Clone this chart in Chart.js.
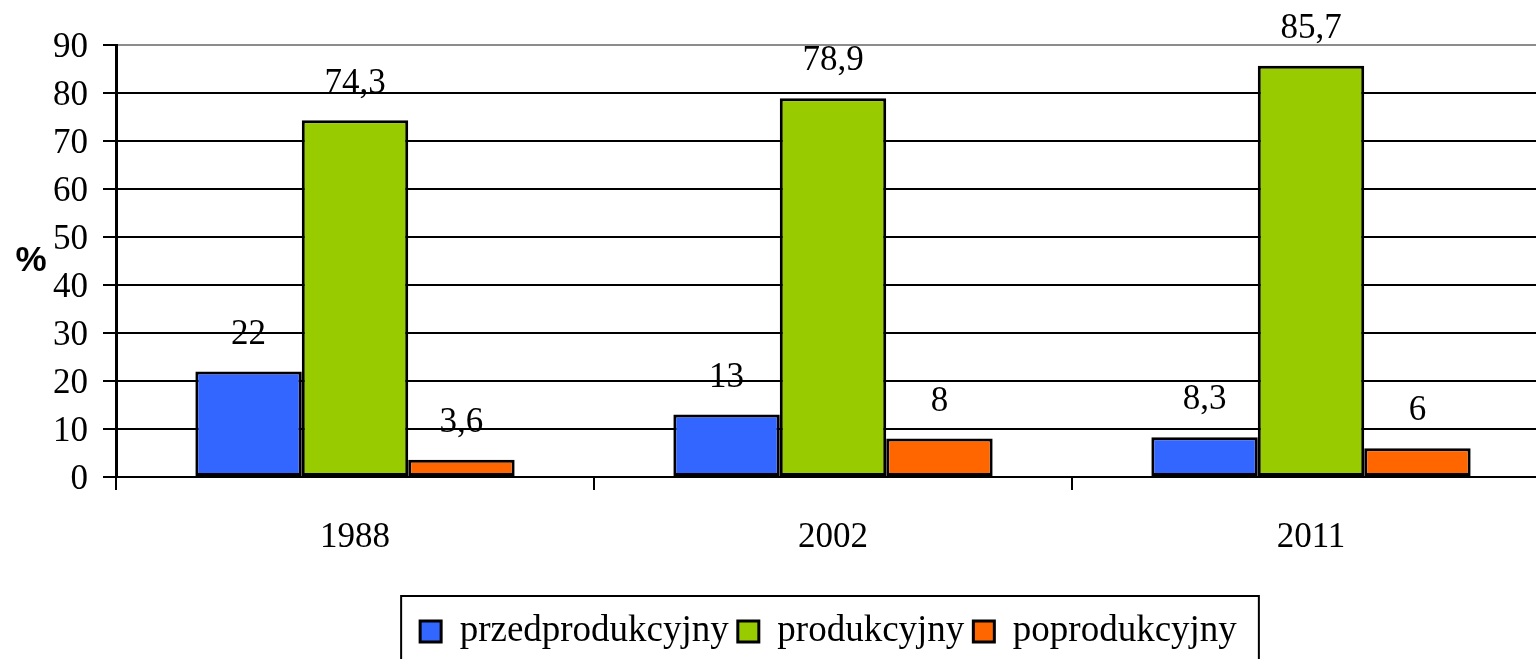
<!DOCTYPE html>
<html>
<head>
<meta charset="utf-8">
<script src="https://cdn.jsdelivr.net/npm/chart.js@4/dist/chart.umd.min.js"></script>
<style>
  html, body { margin: 0; padding: 0; background: #fff; overflow: hidden; }
  #wrap { position: absolute; left: 0; top: 0; width: 1560px; height: 680px; }
</style>
</head>
<body>
<div id="wrap"><canvas id="c" width="1560" height="680"></canvas></div>
<script>
const categories = ['1988', '2002', '2011'];
const seriesNames = ['przedprodukcyjny', 'produkcyjny', 'poprodukcyjny'];
const przedprodukcyjny = [22, 13, 8.3];
const produkcyjny = [74.3, 78.9, 85.7];
const poprodukcyjny = [3.6, 8, 6];
const yTicks = [0, 10, 20, 30, 40, 50, 60, 70, 80, 90];
const colors = ['#3366FF', '#99CC00', '#FF6600'];

const serif = '"Liberation Serif", "Times New Roman", serif';

const fmt = v => String(v).replace('.', ',');

const valueLabels = {
  id: 'valueLabels',
  afterDatasetsDraw(chart) {
    const ctx = chart.ctx;
    ctx.save();
    ctx.font = '35px ' + serif;
    ctx.fillStyle = '#000';
    ctx.textAlign = 'center';
    ctx.textBaseline = 'middle';
    chart.data.datasets.forEach((ds, i) => {
      const meta = chart.getDatasetMeta(i);
      meta.data.forEach((bar, j) => {
        ctx.fillText(fmt(ds.data[j]), bar.x, bar.y - 37);
      });
    });
    ctx.restore();
  }
};

const extras = {
  id: 'extras',
  afterLayout(chart) {
    if (chart.legend) { chart.legend.left = 107; }
  },
  afterDraw(chart) {
    const ctx = chart.ctx;
    const ca = chart.chartArea;
    ctx.save();
    ctx.font = 'bold 35px "Liberation Sans", Arial, sans-serif';
    ctx.fillStyle = '#000';
    ctx.textAlign = 'center';
    ctx.textBaseline = 'middle';
    ctx.fillText('%', ca.left - 85, (ca.top + ca.bottom) / 2);
    const hb = chart.legend.legendHitBoxes;
    if (hb && hb.length) {
      const first = hb[0], last = hb[hb.length - 1];
      const l = first.left - 19;
      const r = last.left + last.width + 22;
      const t = first.top - 17;
      ctx.strokeStyle = '#000';
      ctx.lineWidth = 2;
      ctx.strokeRect(l, t, r - l, 200);
    }
    ctx.restore();
  }
};

new Chart(document.getElementById('c'), {
  type: 'bar',
  data: {
    labels: categories,
    datasets: [
      { label: seriesNames[0], data: przedprodukcyjny, backgroundColor: colors[0] },
      { label: seriesNames[1], data: produkcyjny, backgroundColor: colors[1] },
      { label: seriesNames[2], data: poprodukcyjny, backgroundColor: colors[2] }
    ].map(d => Object.assign(d, {
      borderColor: '#000', borderWidth: 3, borderSkipped: false,
      categoryPercentage: 0.668, barPercentage: 1.0
    }))
  },
  options: {
    responsive: false,
    animation: false,
    events: [],
    layout: { padding: { left: 0, right: 10, top: 45, bottom: 20 } },
    plugins: {
      legend: {
        position: 'bottom',
        labels: {
          font: { family: serif, size: 37 },
          color: '#000',
          boxWidth: 21,
          boxHeight: 21,
          padding: 9
        }
      },
      tooltip: { enabled: false },
      title: { display: false }
    },
    scales: {
      x: {
        offset: true,
        grid: {
          offset: true,
          drawOnChartArea: false,
          drawTicks: true,
          tickLength: 13,
          color: '#000',
          lineWidth: 2
        },
        border: { display: true, color: '#000', width: 2 },
        ticks: {
          font: { family: serif, size: 35 },
          color: '#000',
          padding: 27,
          maxRotation: 0
        },
        afterFit(scale) { scale.height = 127; }
      },
      y: {
        min: 0,
        max: 90,
        afterBuildTicks(scale) { scale.ticks = yTicks.map(v => ({ value: v })); },
        grid: {
          drawOnChartArea: true,
          drawTicks: true,
          tickLength: 13,
          color: ctx => (ctx.tick && ctx.tick.value === 90 ? '#8c8c8c' : '#000'),
          tickColor: '#000',
          lineWidth: 2
        },
        border: { display: true, color: '#000', width: 3 },
        ticks: {
          font: { family: serif, size: 35 },
          color: '#000',
          padding: 15,
          labelOffset: 3
        },
        afterFit(scale) { scale.width = 116; }
      }
    }
  },
  plugins: [valueLabels, extras]
});
</script>
</body>
</html>
